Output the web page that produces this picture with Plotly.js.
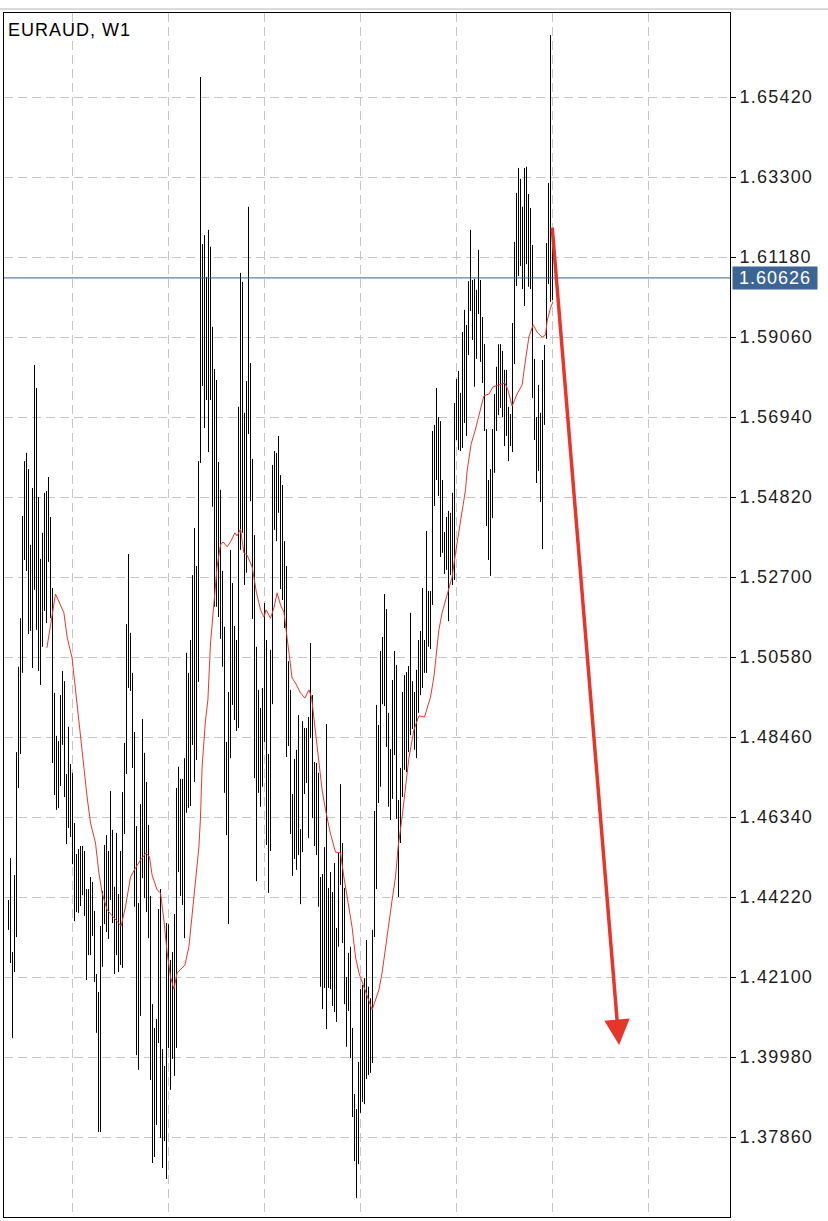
<!DOCTYPE html>
<html><head><meta charset="utf-8">
<script src="https://cdn.plot.ly/plotly-3.0.1.min.js"></script>
<style>
html,body{margin:0;padding:0;background:#fff;}
#chart{width:828px;height:1221px;}
.ytick text{letter-spacing:1.2px;}
.annotation-text{letter-spacing:1px;}
</style></head><body><div id="chart"></div>
<script>
const symbolTitle = "EURAUD, W1";
const lastPrice = 1.60626;
const yTicks = [1.3786,1.3998,1.4210,1.4422,1.4634,1.4846,1.5058,1.5270,1.5482,1.5694,1.5906,1.6118,1.6330,1.6542];
const gridBars = [32,80,128,176,224,272,320];

const highs = [
1.4414,1.4525,1.4276,1.4480,1.4806,1.5032,1.5161,1.5432,1.5577,1.5599,
1.5556,1.5355,1.5506,1.5832,1.5771,1.5482,1.5318,1.5387,1.5493,1.5498,
1.5535,1.5429,1.5241,1.4963,1.4849,1.4835,1.4957,1.5021,1.4994,1.4748,
1.4873,1.4774,1.4751,1.4618,1.4536,1.4549,1.4557,1.4557,1.4544,1.4443,
1.4443,1.4475,1.4462,1.4385,1.4218,1.4170,1.4345,1.4438,1.4560,1.4586,
1.4544,1.4703,1.4600,1.4449,1.4592,1.4430,1.4544,1.4700,1.4830,1.5145,
1.5331,1.5122,1.5016,1.4859,1.4610,1.4406,1.4668,1.4894,1.4804,1.4727,
1.4613,1.4425,1.4138,1.4075,1.4099,1.4390,1.4443,1.4019,1.3974,1.4353,
1.4350,1.4255,1.4276,1.4377,1.4711,1.4767,1.4735,1.4735,1.4790,1.5069,
1.5016,1.5103,1.5275,1.5400,1.5299,1.5577,1.6595,1.6152,1.6176,1.6065,
1.6190,1.6145,1.5933,1.5821,1.5792,1.5575,1.5501,1.5286,1.5138,1.4833,
1.4965,1.5342,1.5254,1.5140,1.5103,1.5721,1.6076,1.6052,1.5705,1.5789,
1.6251,1.5837,1.5583,1.5381,1.5085,1.4971,1.4923,1.4976,1.5201,1.5103,
1.4801,1.5077,1.5567,1.5604,1.5599,1.5644,1.5540,1.5514,1.5365,1.5299,
1.5047,1.4971,1.4695,1.4788,1.4812,1.4904,1.4602,1.4888,1.4870,1.4870,
1.4899,1.5095,1.4957,1.4780,1.4777,1.4751,1.4475,1.4483,1.4554,1.4880,
1.4446,1.4488,1.4435,1.4512,1.4340,1.4541,1.4721,1.4565,1.4446,1.4210,
1.4274,1.4290,1.4075,1.3900,1.3860,1.3985,1.4178,1.4189,1.4207,1.4308,
1.4184,1.4154,1.4335,1.4650,1.4931,1.4878,1.5074,1.5111,1.5225,1.5185,
1.4910,1.4814,1.4997,1.5074,1.5037,1.4679,1.4764,1.4965,1.5010,1.5018,
1.5034,1.5175,1.4994,1.4965,1.5024,1.5103,1.5127,1.5241,1.5103,1.5392,
1.5233,1.5233,1.5657,1.5673,1.5771,1.5694,1.5683,1.5527,1.5389,1.5429,
1.5445,1.5440,1.5493,1.5731,1.5795,1.5816,1.5758,1.5919,1.5978,1.5938,
1.6054,1.6190,1.6057,1.6060,1.6031,1.6137,1.6057,1.5959,1.5887,1.5662,
1.5527,1.5556,1.5662,1.5755,1.5827,1.5887,1.5887,1.5869,1.5819,1.5819,
1.5721,1.5702,1.5943,1.6158,1.6288,1.6354,1.6325,1.6251,1.6354,1.6357,
1.6285,1.6248,1.6150,1.5848,1.5694,1.5779,1.5705,1.5845,1.5885,1.6155,
1.6314,1.6706,1.6190];

const lows = [
1.4335,1.4247,1.4048,1.4223,1.4316,1.4711,1.4801,1.5016,1.5315,1.5286,
1.5119,1.5127,1.5029,1.5236,1.5130,1.5021,1.4984,1.5085,1.5180,1.5148,
1.5310,1.5161,1.4777,1.4692,1.4653,1.4658,1.4716,1.4825,1.4687,1.4562,
1.4605,1.4581,1.4509,1.4358,1.4382,1.4380,1.4398,1.4427,1.4372,1.4202,
1.4268,1.4268,1.4319,1.4197,1.4062,1.3799,1.3799,1.4237,1.4350,1.4329,
1.4311,1.4414,1.4353,1.4218,1.4268,1.4223,1.4242,1.4234,1.4589,1.4748,
1.4976,1.4968,1.4764,1.4396,1.4003,1.3964,1.4107,1.4472,1.4419,1.4382,
1.4313,1.3937,1.3717,1.3733,1.3818,1.4035,1.3783,1.3704,1.3775,1.3675,
1.4022,1.3911,1.3993,1.3948,1.4022,1.4488,1.4425,1.4401,1.4313,1.4645,
1.4658,1.4663,1.4825,1.4727,1.4785,1.4992,1.5572,1.5776,1.5665,1.5739,
1.5601,1.5739,1.5456,1.5191,1.5191,1.5164,1.5106,1.5032,1.4698,1.4586,
1.4350,1.4790,1.4931,1.4891,1.4862,1.4870,1.5342,1.5387,1.5249,1.5281,
1.5649,1.5471,1.5159,1.4737,1.4464,1.4698,1.4661,1.4714,1.4833,1.4560,
1.4433,1.4544,1.4933,1.5395,1.5365,1.5440,1.5238,1.5209,1.5135,1.4793,
1.4822,1.4589,1.4478,1.4523,1.4494,1.4533,1.4403,1.4541,1.4695,1.4724,
1.4578,1.4843,1.4631,1.4557,1.4533,1.4396,1.4184,1.4125,1.4181,1.4072,
1.4181,1.4178,1.4133,1.4117,1.4091,1.4290,1.4454,1.4300,1.4138,1.4025,
1.4120,1.3995,1.3839,1.3722,1.3624,1.3714,1.3850,1.3879,1.3873,1.3940,
1.3950,1.3956,1.3982,1.4316,1.4443,1.4671,1.4714,1.4933,1.4928,1.4820,
1.4661,1.4626,1.4682,1.4798,1.4629,1.4422,1.4565,1.4687,1.4759,1.4753,
1.4806,1.4851,1.4867,1.4812,1.4790,1.4910,1.4957,1.4976,1.5016,1.5016,
1.5085,1.5079,1.5196,1.5458,1.5527,1.5485,1.5323,1.5334,1.5278,1.5289,
1.5153,1.5275,1.5249,1.5262,1.5633,1.5607,1.5604,1.5612,1.5678,1.5644,
1.5858,1.5975,1.5898,1.5774,1.5848,1.5967,1.5840,1.5784,1.5657,1.5405,
1.5315,1.5273,1.5426,1.5546,1.5657,1.5699,1.5718,1.5694,1.5617,1.5644,
1.5577,1.5617,1.5601,1.5834,1.6041,1.6068,1.6094,1.6033,1.5988,1.6099,
1.6039,1.6033,1.5744,1.5633,1.5519,1.5551,1.5469,1.5344,1.5673,1.5901,
1.6046,1.5999,1.6004];

const maX = [19.2,23.5,27.7,29.3,31.8,34,36,37.7,39.3,41,43.5,45.2,46.8,49.3,52.7,56.3,58.5,61,63.5,66,
68.8,70.5,71.8,74.3,76,77.7,79.3,81,82.7,84.3,86.8,88.2,90.2,91.8,93.5,95.2,96,96.8,98.5,99.7,
101,102.7,104.3,106,107.3,109.3,111,113.2,114.3,116,117.7,119.3,121.8,124,126,127.7,128.8,131,132.7,134.3,
136,137.7,139,140.2,141.8,143.5,146,148.2,150.2,151.5,153.5,155.2,156.8,158.5,161,163.5,166,167.7,169.7,171.8,
173.5,175.2,177.7,180.2,181.8,183.5,185.2,186.8,188.5,190.2,191.8,193.5,194.8,196.8,198.5,200.2,202.7,205.2,208,211,
212.7,214,215.2,216.8,218.5,220.2,221.8,223.5,225.2,226.8,228.5,229.3,231.3,233.5,236,237.7,240.2,242.3,245.2,248.2,
249.7,251.8,254.3,256.8,258.5,260.2,262.3,264.3,266.8,268.5,269.3,271,272.2];
const maY = [1.5082,1.5225,1.5175,1.5111,1.5055,1.4944,1.4846,1.4767,1.4687,1.4618,1.4565,1.4486,1.4433,1.4388,1.4366,1.4345,1.4396,1.4475,1.4499,1.4520,
1.4539,1.4528,1.4480,1.4441,1.4433,1.4361,1.4276,1.4210,1.4178,1.4221,1.4234,1.4242,1.4290,1.4369,1.4459,1.4554,1.4634,1.4767,1.4891,1.4944,
1.5095,1.5209,1.5297,1.5355,1.5363,1.5350,1.5363,1.5387,1.5379,1.5397,1.5334,1.5328,1.5297,1.5228,1.5183,1.5164,1.5183,1.5161,1.5188,1.5228,
1.5196,1.5177,1.5124,1.5069,1.5002,1.4989,1.4963,1.4949,1.4971,1.4952,1.4865,1.4777,1.4706,1.4653,1.4589,1.4541,1.4539,1.4475,1.4414,1.4342,
1.4263,1.4221,1.4184,1.4144,1.4123,1.4149,1.4176,1.4221,1.4290,1.4353,1.4414,1.4475,1.4554,1.4634,1.4714,1.4790,1.4865,1.4902,1.4899,1.4952,
1.5005,1.5069,1.5130,1.5175,1.5209,1.5243,1.5270,1.5334,1.5395,1.5448,1.5501,1.5551,1.5622,1.5662,1.5713,1.5750,1.5755,1.5774,1.5779,1.5784,
1.5766,1.5723,1.5755,1.5779,1.5845,1.5906,1.5938,1.5919,1.5906,1.5911,1.5948,1.5983,1.5999];

const arrowTail = {bar: 271.8, price: 1.6200};
const arrowHead = {bar: 305.3, price: 1.4030};

const bx = [], by = [];
highs.forEach((h, i) => { bx.push(i, i, null); by.push(lows[i], h, null); });

const traces = [
  {type:'scatter', mode:'lines', x:bx, y:by, line:{color:'#000', width:1}, hoverinfo:'skip', connectgaps:false},
  {type:'scatter', mode:'lines', x:maX, y:maY, line:{color:'#e8372b', width:1}, hoverinfo:'skip'}
];

const gridStyle = {showgrid:true, gridcolor:'#c6c6c6', gridwidth:1, griddash:'9px,5px', zeroline:false,
  showline:true, linecolor:'#000', linewidth:1, mirror:true, fixedrange:true};

const layout = {
  width:828, height:1221,
  margin:{l:4, r:98, t:13, b:4, pad:0},
  paper_bgcolor:'#fff', plot_bgcolor:'#fff',
  showlegend:false,
  xaxis:Object.assign({range:[-2.25, 360.75], tickvals:gridBars, showticklabels:false, ticks:''}, gridStyle),
  yaxis:Object.assign({side:'right', range:[1.3574, 1.67646], tickvals:yTicks,
    ticktext:yTicks.map(v => v.toFixed(5)), ticks:'outside', ticklen:5, tickcolor:'#000', tickwidth:1,
    tickfont:{family:'Liberation Sans, Arial, sans-serif', size:18, color:'#1e1e1e'}}, gridStyle),
  shapes:[
    {type:'line', xref:'paper', yref:'y', x0:0, x1:1, y0:lastPrice, y1:lastPrice, line:{color:'#3b5f8c', width:1}},
    {type:'line', xref:'paper', yref:'paper', x0:-0.0055, x1:1.135, y0:1.0033, y1:1.0033, line:{color:'#b4b4b4', width:1}}
  ],
  annotations:[
    {xref:'paper', yref:'paper', x:0, y:1, xanchor:'left', yanchor:'top', xshift:2, yshift:-5,
     text:symbolTitle, showarrow:false, font:{family:'Liberation Sans, Arial, sans-serif', size:18, color:'#000'}},
    {xref:'paper', yref:'y', x:1, y:lastPrice, xanchor:'left', yanchor:'middle', xshift:2,
     text:lastPrice.toFixed(5), showarrow:false, bgcolor:'#3d6593', borderpad:2, width:80, height:18, align:'center',
     font:{family:'Liberation Sans, Arial, sans-serif', size:18, color:'#ffffff'}},
    {xref:'x', yref:'y', axref:'x', ayref:'y', x:arrowHead.bar, y:arrowHead.price, ax:arrowTail.bar, ay:arrowTail.price,
     text:'', showarrow:true, arrowhead:2, arrowsize:1.45, arrowwidth:3.5, arrowcolor:'#e8352a'}
  ]
};

Plotly.newPlot('chart', traces, layout, {staticPlot:true, displayModeBar:false});
</script></body></html>
